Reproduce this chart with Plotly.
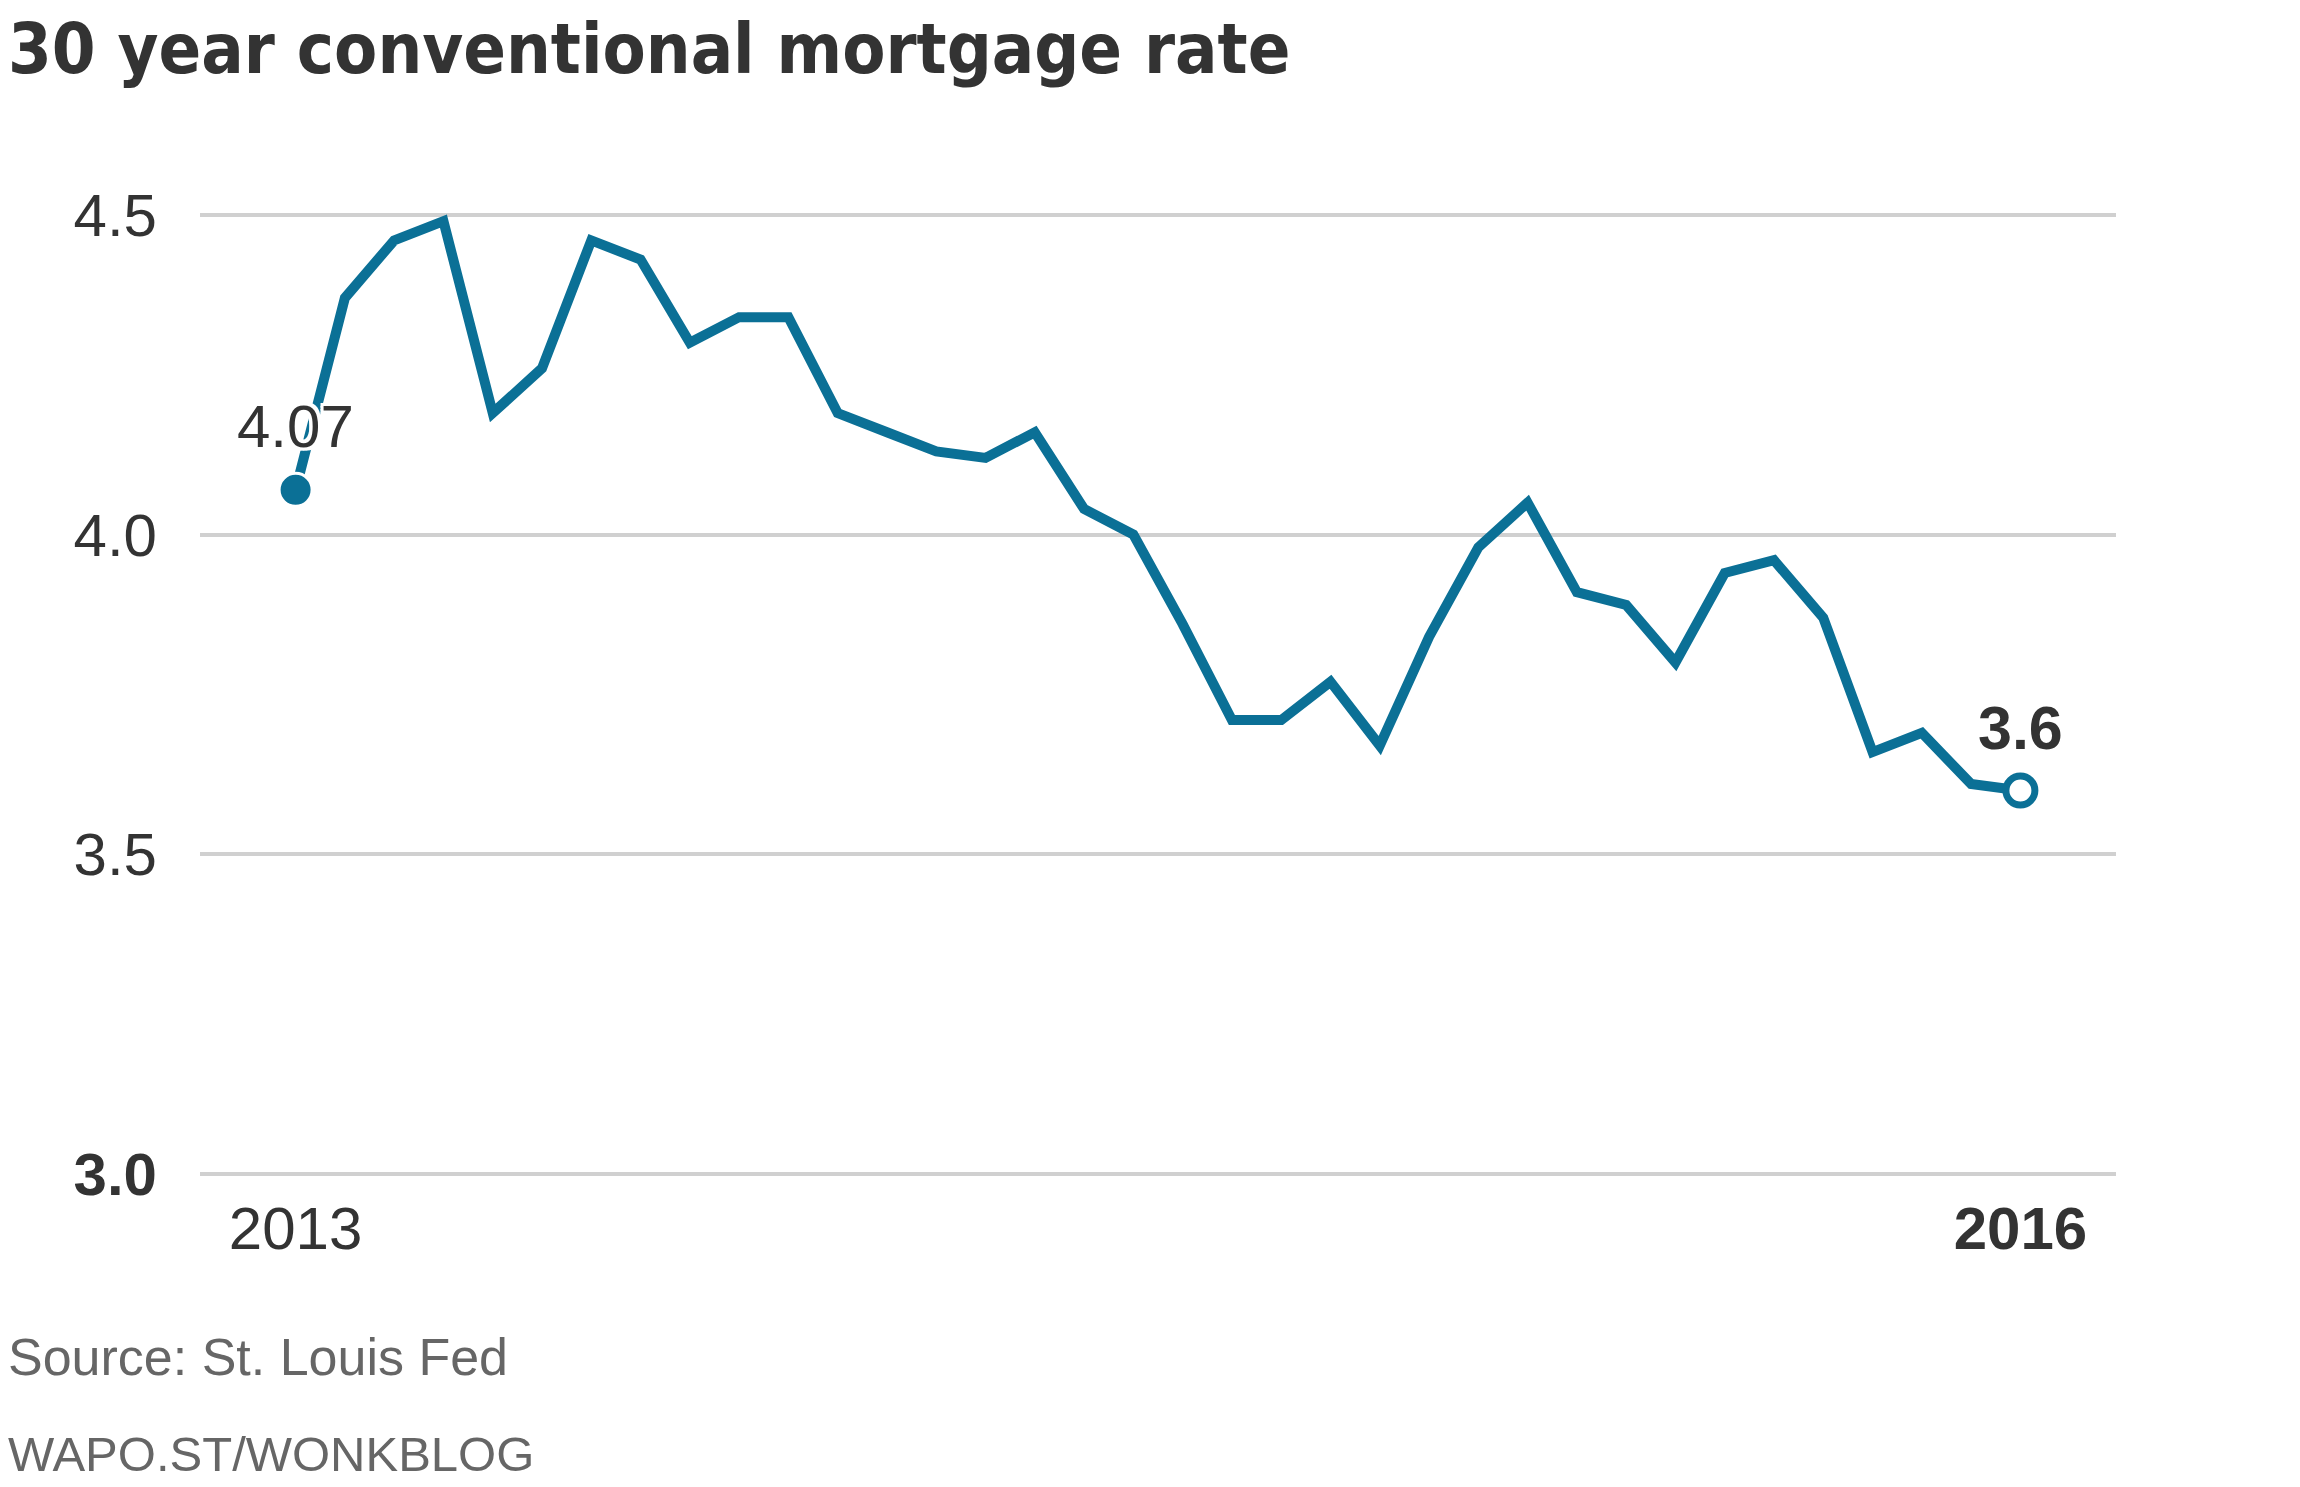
import plotly.graph_objects as go

# ---- data ----
months = [
    "2013-05", "2013-06", "2013-07", "2013-08", "2013-09", "2013-10",
    "2013-11", "2013-12", "2014-01", "2014-02", "2014-03", "2014-04",
    "2014-05", "2014-06", "2014-07", "2014-08", "2014-09", "2014-10",
    "2014-11", "2014-12", "2015-01", "2015-02", "2015-03", "2015-04",
    "2015-05", "2015-06", "2015-07", "2015-08", "2015-09", "2015-10",
    "2015-11", "2015-12", "2016-01", "2016-02", "2016-03", "2016-04",
]
rate = [
    4.07, 4.37, 4.46, 4.49, 4.19, 4.26,
    4.46, 4.43, 4.30, 4.34, 4.34, 4.19,
    4.16, 4.13, 4.12, 4.16, 4.04, 4.00,
    3.86, 3.71, 3.71, 3.77, 3.67, 3.84,
    3.98, 4.05, 3.91, 3.89, 3.80, 3.94,
    3.96, 3.87, 3.66, 3.69, 3.61, 3.60,
]
y_ticks = [3.0, 3.5, 4.0, 4.5]
y_tick_text = ["<b>3.0</b>", "3.5", "4.0", "4.5"]
x_tick_text = ["2013", "<b>2016</b>"]
start_label = "4.07"
end_label = "<b>3.6</b>"

TEAL = "#0b7096"
DARK = "#333333"
GREY = "#666666"
FONT = "Liberation Sans, Arial, sans-serif"
HALO = ("#fff -3px -3px 0, #fff 3px -3px 0, #fff -3px 3px 0, #fff 3px 3px 0, "
        "#fff 0 3px 0, #fff 0 -3px 0, #fff 3px 0 0, #fff -3px 0 0")

fig = go.Figure()
fig.add_trace(go.Scatter(
    x=months, y=rate, mode="lines",
    line=dict(color=TEAL, width=10, shape="linear"),
    hoverinfo="skip", showlegend=False,
))
# start marker: filled with white outline
fig.add_trace(go.Scatter(
    x=[months[0]], y=[rate[0]], mode="markers",
    marker=dict(size=33, color=TEAL, opacity=1, line=dict(color="white", width=3)),
    hoverinfo="skip", showlegend=False,
))
# end marker: open ring
fig.add_trace(go.Scatter(
    x=[months[-1]], y=[rate[-1]], mode="markers",
    marker=dict(size=29, color="white", opacity=1, line=dict(color=TEAL, width=7)),
    hoverinfo="skip", showlegend=False,
))

fig.add_annotation(
    x=months[0], y=rate[0], text=start_label, showarrow=False,
    yshift=63, yanchor="middle", xanchor="center",
    font=dict(family=FONT, size=60, color=DARK, shadow=HALO),
)
fig.add_annotation(
    x=months[-1], y=rate[-1], text=end_label, showarrow=False,
    yshift=62, yanchor="middle", xanchor="center",
    font=dict(family=FONT, size=61, color=DARK, shadow=HALO),
)

W, H = 2300, 1487
ml, mr, mt, mb = 192, 192, 194, 308
plot_h = H - mt - mb
plot_w = W - ml - mr


def py(pix):
    return (H - mb - pix) / plot_h


def px(pix):
    return (pix - ml) / plot_w


# title and footer
fig.add_annotation(
    xref="paper", yref="paper", x=px(-2), y=py(84), xanchor="left", yanchor="bottom",
    text="<b>30 year conventional mortgage rate</b>", showarrow=False,
    font=dict(family="Liberation Sans Narrow, DejaVu Sans Condensed, Arial Narrow, sans-serif",
              size=70, color=DARK),
)
fig.add_annotation(
    xref="paper", yref="paper", x=px(-2), y=py(1349), xanchor="left", yanchor="middle",
    text="Source: St. Louis Fed", showarrow=False,
    font=dict(family=FONT, size=52, color=GREY),
)
fig.add_annotation(
    xref="paper", yref="paper", x=px(-2), y=py(1446), xanchor="left", yanchor="middle",
    text="WAPO.ST/WONKBLOG", showarrow=False,
    font=dict(family=FONT, size=49, color=GREY),
)

fig.update_layout(
    width=W, height=H,
    margin=dict(l=ml, r=mr, t=mt, b=mb, pad=0),
    paper_bgcolor="white", plot_bgcolor="white",
    showlegend=False,
    xaxis=dict(
        type="category",
        range=[-1.94, len(months) - 1 + 1.94],
        tickvals=[months[0], months[-1]],
        ticktext=x_tick_text,
        showgrid=False, zeroline=False, showline=False,
        ticks="", ticklabelstandoff=1,
        tickfont=dict(family=FONT, size=60, color=DARK),
    ),
    yaxis=dict(
        range=[2.98, 4.52],
        tickvals=y_ticks, ticktext=y_tick_text,
        showgrid=True, gridcolor="#d0d0d0", gridwidth=3.5,
        zeroline=False, showline=False,
        ticks="", ticklabelstandoff=42,
        tickfont=dict(family=FONT, size=60, color=DARK),
    ),
)

fig.write_html("out.html")
